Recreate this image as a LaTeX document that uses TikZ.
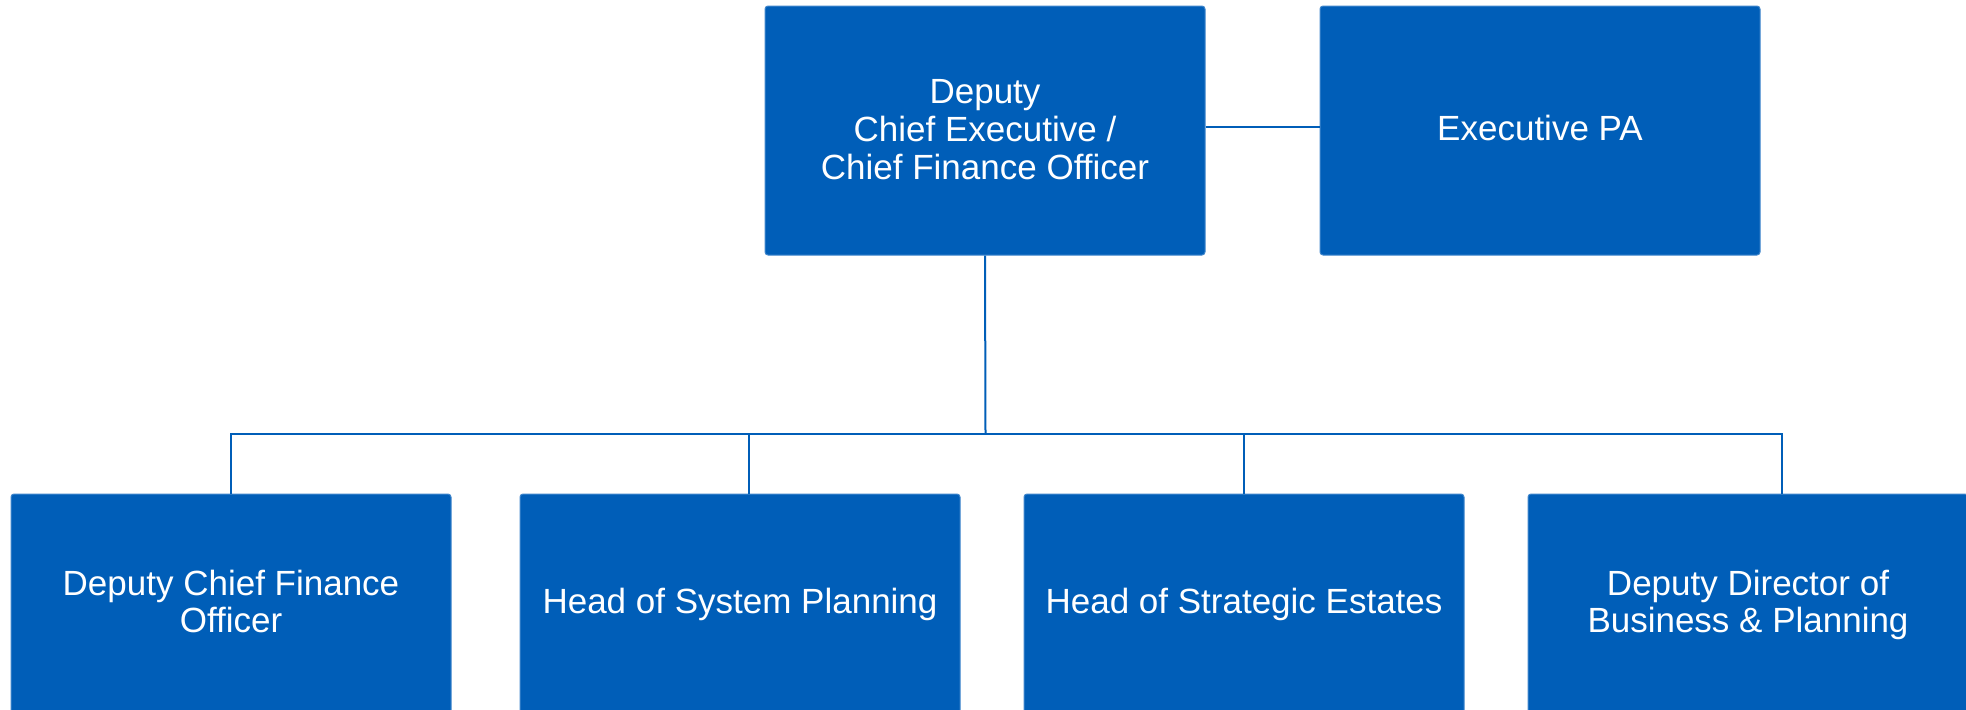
\documentclass[tikz,border=0pt]{standalone}
\usepackage{fontspec}
\setmainfont{Liberation Sans}
\definecolor{nhsblue}{HTML}{005EB8}
\definecolor{edgeblue}{HTML}{3F86CC}
\begin{document}
\begin{tikzpicture}[x=0.5pt,y=-0.5pt,
  box/.style={rectangle, fill=nhsblue, draw=edgeblue, line width=0.5pt, rounded corners=1.5pt,
    minimum width=220pt, minimum height=124.5pt, inner sep=0pt},
  lbl/.style={text=white, font=\fontsize{17.5pt}{18.85pt}\selectfont, align=center, inner sep=0pt},
  link/.style={draw=nhsblue, line width=1pt}]
\clip (0,0) rectangle (1966,709);
\fill[white] (0,0) rectangle (1966,709);

\node[box, label={[lbl, yshift=0.5pt]center:Deputy\\Chief Executive /\\Chief Finance Officer}] (top) at (985,130.5) {};
\node[box, label={[lbl, yshift=1.5pt]center:Executive PA}] (pa) at (1540,130.5) {};

\node[box, label={[lbl, yshift=8.5pt]center:Deputy Chief Finance\\Officer}] (b1) at (231,618.5) {};
\node[box, label={[lbl, yshift=7.2pt]center:Head of System Planning}] (b2) at (740,618.5) {};
\node[box, label={[lbl, yshift=7.2pt]center:Head of Strategic Estates}] (b3) at (1244,618.5) {};
\node[box, label={[lbl, yshift=6.8pt]center:Deputy Director of\\Business \& Planning}] (b4) at (1748,618.5) {};

\coordinate (bus) at (985.5,433.5);
\coordinate (d2) at ([xshift=4.5pt]b2.north);
\coordinate (d4) at ([xshift=17pt]b4.north);

\draw[link] ([yshift=1.75pt]top.east) -- ([yshift=1.75pt]pa.west);
\draw[link] (top.south) -- (bus);
\draw[link] (b1.north) |- (bus) -| (d4);
\draw[link] (d2) -- (d2 |- bus);
\draw[link] (b3.north) -- (b3.north |- bus);
\end{tikzpicture}
\end{document}
